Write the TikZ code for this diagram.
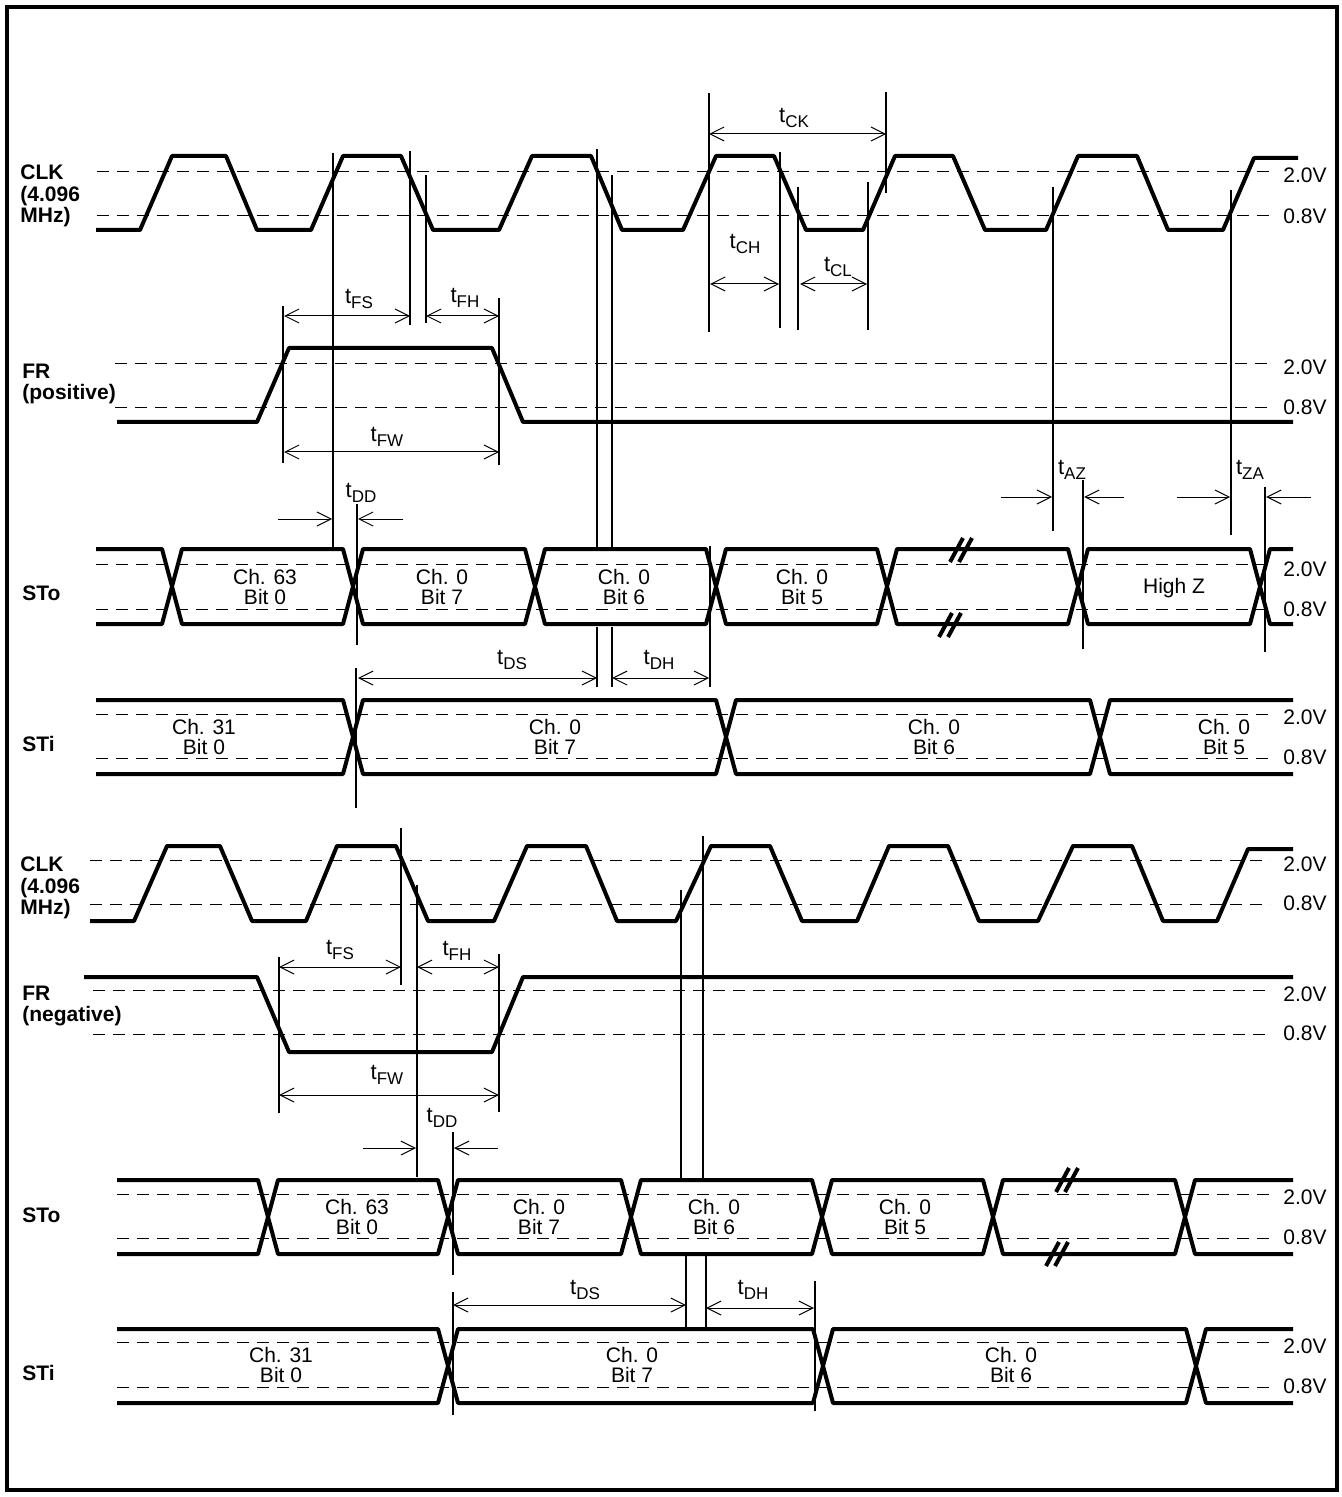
\documentclass[tikz,border=0pt]{standalone}
\usepackage{fontspec}
\setmainfont{Liberation Sans}
\usetikzlibrary{arrows.meta}
\tikzstyle{wave}=[line width=2pt, line join=round]
\tikzstyle{level}=[line width=0.5pt, dash pattern=on 6pt off 4pt]
\tikzstyle{guide}=[line width=0.8pt]
\tikzstyle{dim}=[line width=0.5pt, {Straight Barb[length=7pt,width=7pt]}-{Straight Barb[length=7pt,width=7pt]}]
\tikzstyle{dimr}=[line width=0.5pt, -{Straight Barb[length=7pt,width=7pt]}]
\tikzstyle{sig}=[font=\bfseries\fontsize{10.5}{10.75}\selectfont, align=left, anchor=west, inner sep=0pt]
\tikzstyle{volt}=[font=\fontsize{10.5}{12}\selectfont, anchor=west, inner sep=0pt]
\tikzstyle{chan}=[font=\fontsize{10.5}{10.25}\selectfont, align=center, inner sep=0pt]
\tikzstyle{tlab}=[inner sep=0pt]
\newcommand{\tp}[1]{{\fontsize{11}{11}\selectfont t\raisebox{-2.5pt}{\fontsize{8.5}{8.5}\selectfont #1}}}
\newcommand{\brkmark}[2]{%
  \draw[wave] ({#1-11},{#2+12}) -- ({#1+2},{#2-12});
  \draw[wave] ({#1-2},{#2+12}) -- ({#1+11},{#2-12});}

\begin{document}
\begin{tikzpicture}[x=0.5pt, y=-0.5pt]
  \useasboundingbox (0,0) rectangle (1341,1497);
  \draw[line width=2pt] (7,7) rectangle (1337,1490);

  % threshold levels
  \foreach \xs/\y in {97/172, 97/216, 115/364, 115/408, 96/564, 96/609, 96/714, 96/758,
                      90/860, 90/904, 93/990, 93/1034, 117/1194, 117/1238, 117/1342, 117/1387}
    \draw[level] (\xs,\y) -- (1270,\y);
  \foreach \ya/\yb [count=\i] in {175/216, 367/407, 569/609, 717/757, 864/903, 994/1033, 1197/1237, 1346/1386} {
    \node[volt] (hi\i) at (1283,\ya) {2.0V};
    \node[volt] (lo\i) at (1283,\yb) {0.8V};
  }

  % signal names
  \node[sig] (clkA) at (20,196) {CLK\\(4.096\\MHz)};
  \node[sig] (frA) at (22,384) {FR\\(positive)};
  \node[sig] (stoA) at (22,593) {STo};
  \node[sig] (stiA) at (22,744) {STi};
  \node[sig] (clkB) at (20,888) {CLK\\(4.096\\MHz)};
  \node[sig] (frB) at (22,1006) {FR\\(negative)};
  \node[sig] (stoB) at (22,1215) {STo};
  \node[sig] (stiB) at (22,1373) {STi};

  % upper timing
  \begin{scope}
    \draw[wave] (96,230) -- (140,230) -- (172,156) -- (226,156) -- (257,230) -- (311,230) -- (343,156)
      -- (401,156) -- (433,230) -- (499,230) -- (532,156) -- (591,156) -- (622,230) -- (683,230)
      -- (716,156) -- (774,156) -- (806,230) -- (863,230) -- (895,156) -- (953,156) -- (985,230)
      -- (1046,230) -- (1078,156) -- (1137,156) -- (1168,230) -- (1223,230) -- (1254,158) -- (1298,158);
    \draw[wave] (117,422) -- (257,422) -- (289,348) -- (492,348) -- (523,422) -- (1293,422);

    \draw[wave] (96,549) -- (162,549) -- (172,586.5) -- (162,624) -- (96,624);
    \foreach \l/\r in {172/353, 353/535, 535/716, 716/887, 887/1078, 1078/1260}
      \draw[wave] (\l,586.5) -- ({\l+10},549) -- ({\r-10},549) -- (\r,586.5) -- ({\r-10},624) -- ({\l+10},624) -- cycle;
    \draw[wave] (1293,549) -- (1270,549) -- (1260,586.5) -- (1270,624) -- (1293,624);
    \brkmark{961}{550}
    \brkmark{950}{625}

    \draw[wave] (96,700) -- (343,700) -- (353,737) -- (343,774) -- (96,774);
    \foreach \l/\r in {353/726, 726/1100}
      \draw[wave] (\l,737) -- ({\l+10},700) -- ({\r-10},700) -- (\r,737) -- ({\r-10},774) -- ({\l+10},774) -- cycle;
    \draw[wave] (1293,700) -- (1110,700) -- (1100,737) -- (1110,774) -- (1293,774);

    \node[chan] (sA1) at (265,587) {Ch. 63\\Bit 0};
    \node[chan] (sA2) at (442,587) {Ch. 0\\Bit 7};
    \node[chan] (sA3) at (624,587) {Ch. 0\\Bit 6};
    \node[chan] (sA4) at (802,587) {Ch. 0\\Bit 5};
    \node[chan] (sA5) at (1174,588) {High Z};
    \node[chan] (iA1) at (204,737) {Ch. 31\\Bit 0};
    \node[chan] (iA2) at (555,737) {Ch. 0\\Bit 7};
    \node[chan] (iA3) at (934,737) {Ch. 0\\Bit 6};
    \node[chan] (iA4) at (1224,737) {Ch. 0\\Bit 5};

    \foreach \x/\ya/\yb in {333/153/548, 410/151/325, 426/175/323, 283/306/463, 499/298/465,
                            357/504/645, 356/668/808, 597/149/548, 597/627/687, 612/175/548,
                            612/627/687, 710/546/687, 709/93/332, 886/92/193, 780/152/328,
                            798/187/330, 868/182/330, 1053/187/531, 1083/480/649, 1231/190/535, 1265/487/652}
      \draw[guide] (\x,\ya) -- (\x,\yb);

    \foreach \n/\xa/\xb/\y in {ck/709/886/134, ch/710/779/284, cl/800/867/284, fsA/284/410/316,
                               fhA/426/499/316, fwA/284/499/452, dsA/358/597/678, dhA/612/709/678} {
      \coordinate (\n-l) at (\xa,\y);
      \coordinate (\n-r) at (\xb,\y);
      \draw[dim] (\n-l) -- (\n-r);
    }
    \foreach \n/\xa/\xb/\y in {ddA1/278/332/519, ddA2/403/358/519, az1/1001/1052/497, az2/1124/1084/497,
                               za1/1177/1230/497, za2/1311/1266/497} {
      \coordinate (\n-s) at (\xa,\y);
      \coordinate (\n-e) at (\xb,\y);
      \draw[dimr] (\n-s) -- (\n-e);
    }

    \node[tlab] (tck) at (794,118) {\tp{CK}};
    \node[tlab] (tch) at (745,244) {\tp{CH}};
    \node[tlab] (tcl) at (838,267) {\tp{CL}};
    \node[tlab] (tfsA) at (359,299) {\tp{FS}};
    \node[tlab] (tfhA) at (465,298) {\tp{FH}};
    \node[tlab] (tfwA) at (387,437) {\tp{FW}};
    \node[tlab] (tddA) at (361,493) {\tp{DD}};
    \node[tlab] (tdsA) at (512,660) {\tp{DS}};
    \node[tlab] (tdhA) at (659,660) {\tp{DH}};
    \node[tlab] (taz) at (1072,470) {\tp{AZ}};
    \node[tlab] (tza) at (1250,470) {\tp{ZA}};
  \end{scope}

  % lower timing
  \begin{scope}
    \draw[wave] (90,921) -- (134,921) -- (167,846) -- (220,846) -- (252,921) -- (306,921) -- (337,846)
      -- (396,846) -- (428,921) -- (494,921) -- (527,846) -- (586,846) -- (617,921) -- (676,921)
      -- (711,846) -- (770,846) -- (802,921) -- (857,921) -- (889,846) -- (948,846) -- (979,921)
      -- (1038,921) -- (1073,846) -- (1132,846) -- (1163,921) -- (1217,921) -- (1248,849) -- (1293,849);
    \draw[wave] (84,977) -- (257,977) -- (289,1052) -- (492,1052) -- (523,977) -- (1293,977);

    \draw[wave] (117,1180) -- (258,1180) -- (268,1217) -- (258,1254) -- (117,1254);
    \foreach \l/\r in {268/448, 448/631, 631/822, 822/993, 993/1185}
      \draw[wave] (\l,1217) -- ({\l+10},1180) -- ({\r-10},1180) -- (\r,1217) -- ({\r-10},1254) -- ({\l+10},1254) -- cycle;
    \draw[wave] (1293,1180) -- (1195,1180) -- (1185,1217) -- (1195,1254) -- (1293,1254);
    \brkmark{1067}{1180}
    \brkmark{1057}{1254}

    \draw[wave] (117,1329) -- (438,1329) -- (448,1366) -- (438,1403) -- (117,1403);
    \foreach \l/\r in {448/823, 823/1196}
      \draw[wave] (\l,1366) -- ({\l+10},1329) -- ({\r-10},1329) -- (\r,1366) -- ({\r-10},1403) -- ({\l+10},1403) -- cycle;
    \draw[wave] (1293,1329) -- (1206,1329) -- (1196,1366) -- (1206,1403) -- (1293,1403);

    \node[chan] (sB1) at (357,1217) {Ch. 63\\Bit 0};
    \node[chan] (sB2) at (539,1217) {Ch. 0\\Bit 7};
    \node[chan] (sB3) at (714,1217) {Ch. 0\\Bit 6};
    \node[chan] (sB4) at (905,1217) {Ch. 0\\Bit 5};
    \node[chan] (iB1) at (281,1365) {Ch. 31\\Bit 0};
    \node[chan] (iB2) at (632,1365) {Ch. 0\\Bit 7};
    \node[chan] (iB3) at (1011,1365) {Ch. 0\\Bit 6};

    \foreach \x/\ya/\yb in {401/828/985, 417/885/1177, 279/957/1113, 499/954/1112, 453/1132/1275,
                            453/1292/1415, 681/890/1178, 703/836/1178, 686/1255/1327, 706/1255/1327, 815/1281/1411}
      \draw[guide] (\x,\ya) -- (\x,\yb);

    \foreach \n/\xa/\xb/\y in {fsB/279/401/967, fhB/417/499/967, fwB/279/499/1095,
                               dsB/453/686/1305, dhB/706/814/1308} {
      \coordinate (\n-l) at (\xa,\y);
      \coordinate (\n-r) at (\xb,\y);
      \draw[dim] (\n-l) -- (\n-r);
    }
    \foreach \n/\xa/\xb/\y in {ddB1/363/416/1148, ddB2/498/454/1148} {
      \coordinate (\n-s) at (\xa,\y);
      \coordinate (\n-e) at (\xb,\y);
      \draw[dimr] (\n-s) -- (\n-e);
    }

    \node[tlab] (tfsB) at (340,950) {\tp{FS}};
    \node[tlab] (tfhB) at (457,951) {\tp{FH}};
    \node[tlab] (tfwB) at (387,1075) {\tp{FW}};
    \node[tlab] (tddB) at (442,1118) {\tp{DD}};
    \node[tlab] (tdsB) at (585,1290) {\tp{DS}};
    \node[tlab] (tdhB) at (753,1290) {\tp{DH}};
  \end{scope}
\end{tikzpicture}
\end{document}
